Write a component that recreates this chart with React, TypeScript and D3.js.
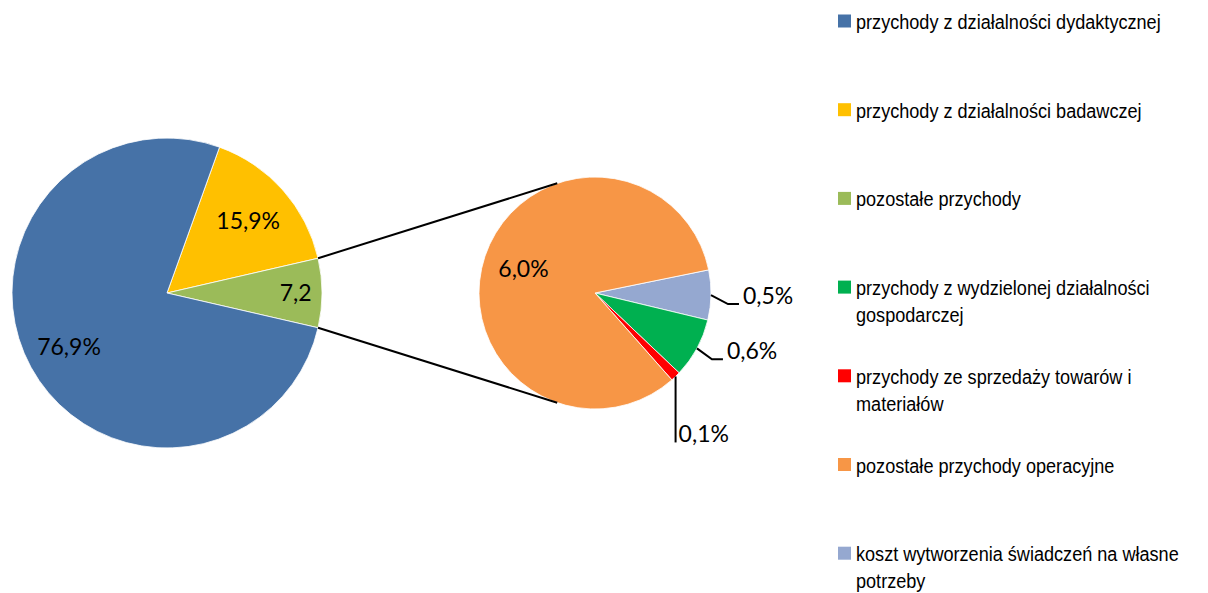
import React from "react";
import * as d3 from "d3";

// legend order
const categories = [
  "przychody z działalności dydaktycznej",
  "przychody z działalności badawczej",
  "pozostałe przychody",
  "przychody z wydzielonej działalności gospodarczej",
  "przychody ze sprzedaży towarów i materiałów",
  "pozostałe przychody operacyjne",
  "koszt wytworzenia świadczeń na własne potrzeby",
];
const legendLines = [
  ["przychody z działalności dydaktycznej"],
  ["przychody z działalności badawczej"],
  ["pozostałe przychody"],
  ["przychody z wydzielonej działalności", "gospodarczej"],
  ["przychody ze sprzedaży towarów i", "materiałów"],
  ["pozostałe przychody operacyjne"],
  ["koszt wytworzenia świadczeń na własne", "potrzeby"],
];
const colors = ["#4672A7", "#FFC000", "#9BBB59", "#00B050", "#FF0000", "#F79646", "#95A8D0"];

// main pie (clockwise from yellow)
const mainIdx = [1, 2, 0];
const mainValues = [15.9, 7.2, 76.9];
const mainLabels = ["15,9%", "7,2", "76,9%"];

// secondary pie (clockwise from light blue)
const subIdx = [6, 3, 4, 5];
const subValues = [0.5, 0.6, 0.1, 6.0];
const subLabels = ["0,5%", "0,6%", "0,1%", "6,0%"];

const W = 1208;
const H = 593;
const deg = Math.PI / 180;

export default function App() {
  const c1 = { x: 167, y: 293 };
  const r1 = 155;
  const c2 = { x: 595, y: 293 };
  const r2 = 116;

  const total = d3.sum(mainValues);
  const start1 = Math.PI / 2 - ((mainValues[0] + mainValues[1] / 2) / total) * 2 * Math.PI;
  const pie1 = d3
    .pie<number>()
    .sort(null)
    .value((d) => d)
    .startAngle(start1)
    .endAngle(start1 + 2 * Math.PI);
  const arcs1 = pie1(mainValues);

  const start2 = 78.5 * deg;
  const pie2 = d3
    .pie<number>()
    .sort(null)
    .value((d) => d)
    .startAngle(start2)
    .endAngle(start2 + 2 * Math.PI);
  const arcs2 = pie2(subValues);

  const arc1 = d3.arc<d3.PieArcDatum<number>>().innerRadius(0).outerRadius(r1);
  const arc2 = d3.arc<d3.PieArcDatum<number>>().innerRadius(0).outerRadius(r2);

  const pt = (c, r, a) => [c.x + r * Math.sin(a), c.y - r * Math.cos(a)];

  // green slice edges -> secondary pie
  const g = arcs1[1];
  const a0 = pt(c1, r1, g.startAngle);
  const a1 = pt(c1, r1, g.endAngle);
  const b0 = pt(c2, r2, -19 * deg);
  const b1 = pt(c2, r2, 199 * deg);

  const labelFont = "Lato, 'Open Sans', sans-serif";
  const legendFont = "'Liberation Sans', Arial, sans-serif";

  // leader offsets for outside labels of secondary pie
  const leaders = [
    { elbow: [17, 9], run: 11, vertical: false },
    { elbow: [15, 11], run: 11, vertical: false },
    { elbow: [0, 66], run: 0, vertical: true },
  ];

  return (
    <svg width={W} height={H} style={{ position: "absolute", left: 0, top: 0 }}>
      <rect width={W} height={H} fill="#fff" />
      <g transform={`translate(${c1.x},${c1.y})`}>
        {arcs1.map((a, i) => (
          <path key={i} d={arc1(a) || ""} fill={colors[mainIdx[i]]} stroke="#fff" strokeWidth={0.8} />
        ))}
      </g>
      <g transform={`translate(${c2.x},${c2.y})`}>
        {arcs2.map((a, i) => (
          <path key={i} d={arc2(a) || ""} fill={colors[subIdx[i]]} stroke="#fff" strokeWidth={0.8} />
        ))}
      </g>
      <line x1={a0[0]} y1={a0[1]} x2={b0[0]} y2={b0[1]} stroke="#000" strokeWidth={2} />
      <line x1={a1[0]} y1={a1[1]} x2={b1[0]} y2={b1[1]} stroke="#000" strokeWidth={2} />

      {arcs1.map((a, i) => {
        const mid = (a.startAngle + a.endAngle) / 2;
        const k = i === 1 ? 0.83 : i === 0 ? 0.7 : 0.72;
        const [x, y] = pt(c1, r1 * k, mid);
        return (
          <text key={i} x={x} y={y} dy="0.36em" textAnchor="middle" fontFamily={labelFont} fontSize={23} fill="#000">
            {mainLabels[i]}
          </text>
        );
      })}

      {arcs2.map((a, i) => {
        const mid = (a.startAngle + a.endAngle) / 2;
        if (i === 3) {
          const [x, y] = pt(c2, r2 * 0.65, mid);
          return (
            <text key={i} x={x} y={y} dy="0.36em" textAnchor="middle" fontFamily={labelFont} fontSize={23} fill="#000">
              {subLabels[i]}
            </text>
          );
        }
        const L = leaders[i];
        const [x0, y0] = pt(c2, r2, mid);
        const x1 = x0 + L.elbow[0];
        const y1 = y0 + L.elbow[1];
        const x2 = x1 + L.run;
        return (
          <g key={i}>
            <path d={`M${x0},${y0}L${x1},${y1}L${x2},${y1}`} fill="none" stroke="#000" strokeWidth={2} />
            <text x={x2 + (L.vertical ? 3 : 4)} y={y1} fontFamily={labelFont} fontSize={23} fill="#000">
              {subLabels[i]}
            </text>
          </g>
        );
      })}

      {categories.map((c, i) => {
        const cy = 21 + i * 88.7;
        return (
          <g key={c}>
            <rect x={838} y={cy - 6.5} width={13} height={13} fill={colors[i]} />
            {legendLines[i].map((line, j) => (
              <text
                key={j}
                transform={`translate(856,${cy + 8 + j * 27}) scale(0.905,1)`}
                fontFamily={legendFont}
                fontSize={20}
                fill="#000"
              >
                {line}
              </text>
            ))}
          </g>
        );
      })}
    </svg>
  );
}
